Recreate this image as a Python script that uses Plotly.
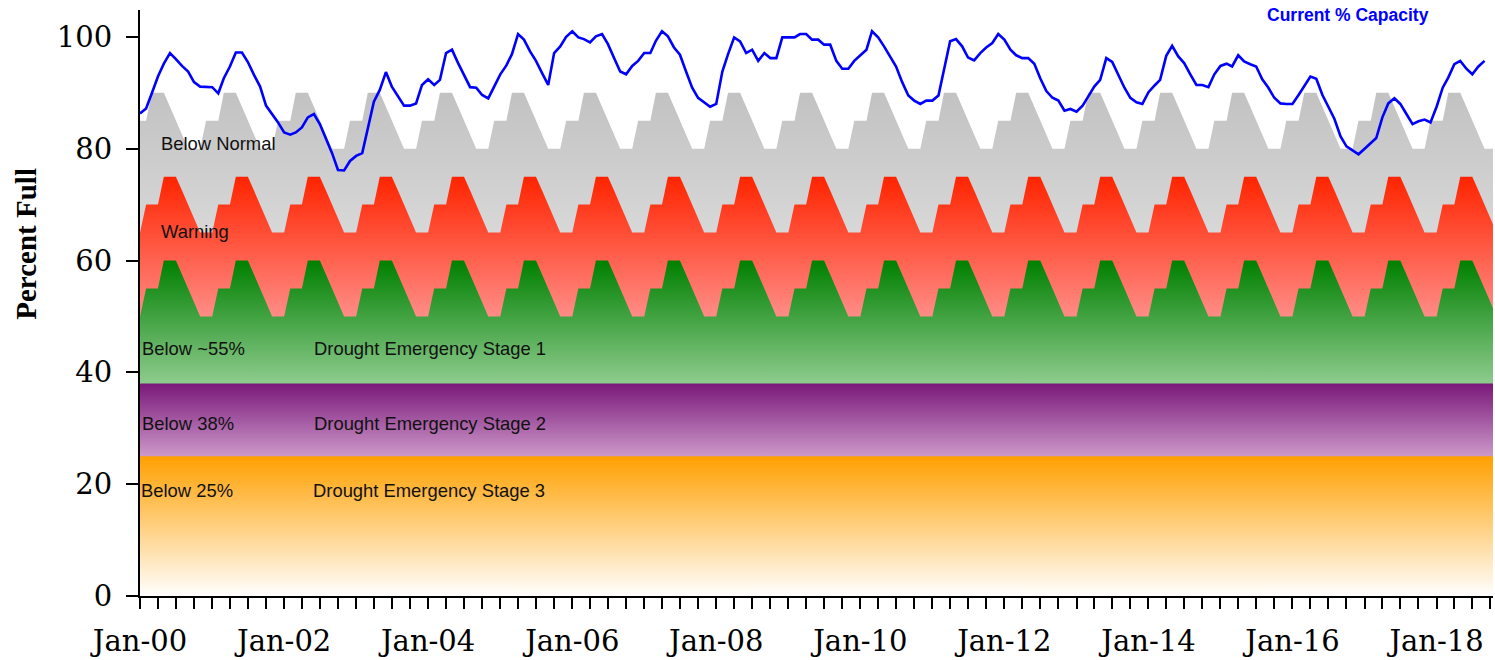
import pandas as pd
import plotly.graph_objects as go

# ---------------- data ----------------
START = "2000-01-01"
# Monthly reservoir level, % of capacity (Jan-2000 .. Sep-2018)
capacity = [
    86.3, 87.2, 89.9, 92.9, 95.2, 97.1, 96.0, 94.8, 93.8, 91.9, 91.1, 91.0,
    91.0, 89.9, 92.6, 94.7, 97.2, 97.2, 95.5, 93.2, 91.1, 87.7, 86.2, 84.7,
    82.9, 82.5, 82.9, 83.8, 85.6, 86.2, 84.4, 81.9, 79.2, 76.2, 76.1, 77.8,
    78.7, 79.2, 83.7, 88.4, 90.5, 93.7, 91.1, 89.5, 87.7, 87.7, 88.1, 91.4,
    92.4, 91.4, 92.3, 97.1, 97.7, 95.3, 93.2, 91.0, 90.9, 89.6, 89.0, 91.1,
    93.3, 94.9, 96.9, 100.5, 99.5, 97.4, 95.7, 93.5, 91.4, 97.1, 98.3, 100.0,
    101.0, 99.9, 99.6, 99.0, 100.1, 100.5, 98.7, 96.2, 93.8, 93.3, 94.8, 95.7,
    97.1, 97.1, 99.3, 101.0, 100.1, 98.1, 96.8, 93.8, 90.9, 89.1, 88.3, 87.5,
    88.0, 93.8, 96.9, 99.9, 99.2, 97.1, 97.7, 95.7, 97.1, 96.2, 96.2, 99.9,
    99.9, 99.9, 100.5, 100.5, 99.5, 99.5, 98.6, 98.6, 95.7, 94.3, 94.3, 95.7,
    96.7, 97.7, 101.0, 99.9, 98.3, 96.5, 94.7, 91.9, 89.5, 88.6, 88.0, 88.6,
    88.6, 89.5, 94.0, 99.2, 99.6, 98.3, 96.3, 95.8, 97.1, 98.1, 98.9, 100.5,
    99.5, 97.7, 96.7, 96.2, 96.2, 95.2, 92.6, 90.3, 89.1, 88.6, 86.8, 87.1,
    86.6, 87.7, 89.3, 91.1, 92.3, 96.2, 95.5, 93.1, 90.9, 89.1, 88.3, 88.0,
    90.1, 91.3, 92.3, 96.6, 98.4, 96.5, 95.3, 93.3, 91.4, 91.4, 91.0, 93.3,
    94.8, 95.2, 94.7, 96.7, 95.6, 95.1, 94.7, 92.4, 90.9, 89.1, 88.1, 88.0,
    88.0, 89.6, 91.2, 92.9, 92.5, 89.6, 87.5, 85.3, 82.2, 80.4, 79.7, 79.0,
    80.0, 81.0, 81.9, 85.6, 88.1, 89.0, 88.0, 86.2, 84.4, 84.9, 85.2, 84.7,
    87.5, 90.9, 92.7, 95.1, 95.7, 94.3, 93.3, 94.7, 95.7,
]

# Seasonal trigger levels by calendar month (Jan..Dec)
below_normal = [85, 85, 90, 90, 90, 87.5, 85, 82.5, 80, 80, 80, 85]
warning = [65, 70, 70, 70, 75, 75, 75, 72.5, 70, 67.5, 65, 65]
stage1 = [50, 55, 55, 55, 60, 60, 60, 57.5, 55, 52.5, 50, 50]
stage2_level = 38
stage3_level = 25
n_years = 19

y_ticks = [0, 20, 40, 60, 80, 100]

# ---------------- build ----------------
cap_dates = pd.date_range(START, periods=len(capacity), freq="MS")
th_dates = pd.date_range(START, periods=12 * n_years, freq="MS")
x_end = pd.Timestamp("2018-10-14")

def tile(p):
    return p * n_years

fig = go.Figure()

def band(x, y, lo, hi, c_lo, c_hi):
    fig.add_trace(go.Scatter(
        x=x, y=y, mode="lines", line=dict(width=0), fill="tozeroy",
        fillgradient=dict(type="vertical", start=lo, stop=hi,
                          colorscale=[[0, c_lo], [1, c_hi]]),
        hoverinfo="skip", showlegend=False))

band(th_dates, tile(below_normal), 60, 90, "#DCDCDC", "#C2C2C2")
band(th_dates, tile(warning), 50, 75, "#FF8C86", "#FF2400")
band(th_dates, tile(stage1), 38, 60, "#8ECB8E", "#008000")
full_x = [th_dates[0], th_dates[-1]]
band(full_x, [stage2_level] * 2, 25, 38, "#CC98C9", "#7A187A")
band(full_x, [stage3_level] * 2, 0, 25, "#FFFFFF", "#FFA000")

fig.add_trace(go.Scatter(
    x=cap_dates, y=capacity, mode="lines",
    line=dict(color="#0000FF", width=2.6), name="Current % Capacity",
    showlegend=False))

lab_font = dict(family="Liberation Sans, Arial", size=18.4, color="#111111")
labels = [
    ("Below Normal", 159, 81.0),
    ("Warning", 159, 65.1),
    ("Below ~55%", 140, 44.2),
    ("Drought Emergency Stage 1", 312, 44.2),
    ("Below 38%", 140, 30.8),
    ("Drought Emergency Stage 2", 312, 30.8),
    ("Below 25%", 139, 18.8),
    ("Drought Emergency Stage 3", 311, 18.8),
]
L, R = 140, 2
PW = 1495 - L - R
for txt, px, yv in labels:
    fig.add_annotation(text=txt, xref="paper", yref="y", x=(px - L) / PW, y=yv,
                       xanchor="left", yanchor="middle", showarrow=False,
                       font=lab_font)

fig.add_annotation(text="<b>Current % Capacity</b>", xref="paper", yref="paper",
                   x=(1348 - L) / PW, y=1.0, yshift=-5, xanchor="center",
                   yanchor="middle", showarrow=False,
                   font=dict(family="Liberation Sans, Arial", size=17.5, color="#0000FF"))

fig.add_annotation(text="<b>Percent Full</b>", xref="paper", yref="y",
                   x=(26 - L) / PW, y=63, xanchor="center", yanchor="middle",
                   textangle=-90, showarrow=False,
                   font=dict(family="Liberation Serif, serif", size=29, color="black"))

tick_font = dict(family="DejaVu Serif, serif", size=29, color="black")
fig.update_xaxes(
    type="date", range=[pd.Timestamp(START), x_end],
    tick0=START, dtick="M24", tickformat="%b-%y",
    ticks="outside", ticklen=11, tickwidth=2, tickcolor="black",
    minor=dict(dtick="M3", ticks="outside", ticklen=11, tickwidth=2,
               tickcolor="black", showgrid=False),
    showline=True, linewidth=2, linecolor="black", showgrid=False,
    zeroline=False, tickfont=tick_font, ticklabelstandoff=7)
fig.update_yaxes(
    range=[0, 104.8], tickvals=y_ticks,
    ticks="outside", ticklen=12, tickwidth=2, tickcolor="black",
    showline=True, linewidth=2, linecolor="black", showgrid=False,
    zeroline=False, tickfont=tick_font, ticklabelstandoff=8)

fig.update_layout(
    width=1495, height=660,
    margin=dict(l=L, r=R, t=10, b=64),
    plot_bgcolor="white", paper_bgcolor="white",
    showlegend=False)

fig.write_html("out.html", config={"displayModeBar": False},
               post_script="document.body.style.margin='0';")
